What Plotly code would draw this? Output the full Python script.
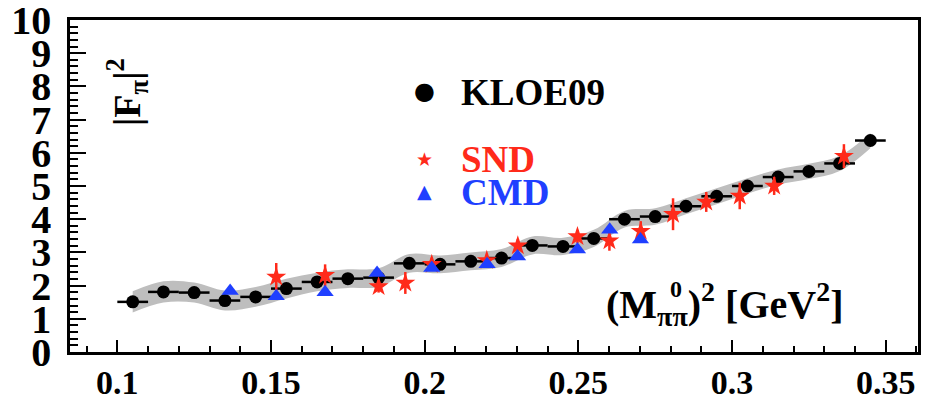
import plotly.graph_objects as go

# ---------------- data ----------------
kloe_x = [0.105, 0.115, 0.125, 0.135, 0.145, 0.155, 0.165, 0.175, 0.185, 0.195,
          0.205, 0.215, 0.225, 0.235, 0.245, 0.255, 0.265, 0.275, 0.285, 0.295,
          0.305, 0.315, 0.325, 0.335, 0.345]
kloe_y = [1.51, 1.81, 1.79, 1.55, 1.66, 1.91, 2.11, 2.21, 2.24, 2.67,
          2.64, 2.73, 2.83, 3.21, 3.18, 3.42, 4.00, 4.08, 4.39, 4.69,
          5.00, 5.27, 5.44, 5.68, 6.37]
kloe_xerr = [0.005] * 25
band_hw = [0.32, 0.32, 0.30, 0.30, 0.30, 0.30, 0.28, 0.28, 0.28, 0.28,
           0.27, 0.27, 0.27, 0.27, 0.26, 0.26, 0.25, 0.25, 0.24, 0.24,
           0.23, 0.23, 0.23, 0.23, 0.23]

snd_x = [0.1517, 0.1676, 0.1850, 0.1937, 0.2023, 0.2202, 0.2303, 0.2497,
         0.2601, 0.2703, 0.2808, 0.2916, 0.3025, 0.3137, 0.3364]
snd_y = [2.26, 2.31, 1.97, 2.08, 2.64, 2.76, 3.20, 3.48,
         3.35, 3.64, 4.15, 4.52, 4.70, 5.00, 5.90]
snd_err = [0.42, 0.33, 0.18, 0.33, 0.20, 0.15, 0.20, 0.20,
           0.30, 0.30, 0.48, 0.30, 0.40, 0.27, 0.36]

cmd_x = [0.1367, 0.1517, 0.1676, 0.1845, 0.2023, 0.2203, 0.2302, 0.2497, 0.2602, 0.2702]
cmd_y = [1.84, 1.68, 1.80, 2.38, 2.53, 2.64, 2.88, 3.09, 3.68, 3.39]

x_range = [0.0846, 0.3605]
y_range = [0, 10]
x_ticks = [0.1, 0.15, 0.2, 0.25, 0.3, 0.35]
x_ticklabels = ["0.1", "0.15", "0.2", "0.25", "0.3", "0.35"]
y_ticks = list(range(0, 11))

RED = "#ff2a1a"
BLUE = "#1f3fff"
GRAY = "#bebebe"
SERIF = "Liberation Serif"

band_hi = [y + h for y, h in zip(kloe_y, band_hw)]
band_lo = [y - h for y, h in zip(kloe_y, band_hw)]

fig = go.Figure()
fig.add_trace(go.Scatter(x=kloe_x, y=band_hi, mode="lines",
                         line=dict(width=0, shape="spline", smoothing=1.0, color=GRAY),
                         showlegend=False, hoverinfo="skip"))
fig.add_trace(go.Scatter(x=kloe_x, y=band_lo, mode="lines", fill="tonexty",
                         fillcolor=GRAY,
                         line=dict(width=0, shape="spline", smoothing=1.0, color=GRAY),
                         showlegend=False, hoverinfo="skip"))
fig.add_trace(go.Scatter(x=kloe_x, y=kloe_y, mode="markers", name="KLOE09",
                         marker=dict(symbol="circle", size=13, color="black"),
                         error_x=dict(type="data", array=kloe_xerr, color="black",
                                      thickness=2.5, width=0),
                         showlegend=False))
fig.add_trace(go.Scatter(x=snd_x, y=snd_y, mode="markers", name="SND",
                         marker=dict(symbol="star", size=15, color=RED, line=dict(width=0)),
                         error_y=dict(type="data", array=snd_err, color=RED,
                                      thickness=2.5, width=0),
                         showlegend=False))
fig.add_trace(go.Scatter(x=cmd_x, y=cmd_y, mode="markers", name="CMD",
                         marker=dict(symbol="triangle-up", size=15, color=BLUE, line=dict(width=0)),
                         showlegend=False))

# the page body adds an 8 px offset; size the figure so it fits the window
OFF = 8
W, H = 936 - OFF, 403 - OFF
L, T = 70 - OFF, 20 - OFF
pw, ph = 848, 332
R, B = W - L - pw, H - T - ph


def px(wx):
    return (wx - OFF - L) / pw


def py(wy):
    return (T + ph - (wy - OFF)) / ph


ann = []
# legend (text symbols)
ann.append(dict(x=px(424), y=py(91), text="●", font=dict(family="DejaVu Sans", size=24, color="black")))
ann.append(dict(x=px(424), y=py(159), text="★", font=dict(family="DejaVu Sans", size=19, color=RED)))
ann.append(dict(x=px(424), y=py(191), text="▲", font=dict(family="DejaVu Sans", size=19, color=BLUE)))
ann.append(dict(x=px(459), y=py(92), text="KLOE09", xanchor="left",
                font=dict(family=SERIF, size=37, color="black", weight="bold")))
ann.append(dict(x=px(459), y=py(159), text="SND", xanchor="left",
                font=dict(family=SERIF, size=37, color=RED, weight="bold")))
ann.append(dict(x=px(459), y=py(192), text="CMD", xanchor="left",
                font=dict(family=SERIF, size=37, color=BLUE, weight="bold")))
# axis titles
ann.append(dict(x=px(127), y=py(92), text="|F<sub>π</sub>|<sup>2</sup>", textangle=-90,
                font=dict(family=SERIF, size=38, color="black", weight="bold")))
ann.append(dict(x=px(846), y=py(304), text="(M<sub>ππ</sub>)<sup>2</sup> [GeV<sup>2</sup>]",
                xanchor="right",
                font=dict(family=SERIF, size=40, color="black", weight="bold")))
ann.append(dict(x=px(676), y=py(289), text="0",
                font=dict(family=SERIF, size=24, color="black", weight="bold")))
for a in ann:
    a.update(xref="paper", yref="paper", showarrow=False)
    a.setdefault("xanchor", "center")
    a.setdefault("yanchor", "middle")

fig.update_layout(
    width=W, height=H,
    margin=dict(l=L, r=R, t=T, b=B, pad=0, autoexpand=False),
    paper_bgcolor="white", plot_bgcolor="white",
    showlegend=False,
    annotations=ann,
    xaxis=dict(range=x_range, tickvals=x_ticks, ticktext=x_ticklabels,
               automargin=False, ticklabeloverflow="allow",
               ticks="inside", ticklen=12, tickwidth=1.5, tickcolor="black",
               minor=dict(dtick=0.01, tick0=0.0, ticks="inside", ticklen=6,
                          tickwidth=1.5, tickcolor="black", showgrid=False),
               showgrid=False, zeroline=False,
               showline=True, linewidth=2.5, linecolor="black", mirror=True,
               ticklabelstandoff=-2,
               tickfont=dict(family=SERIF, size=34, color="black", weight="bold")),
    yaxis=dict(range=y_range, tickvals=y_ticks,
               automargin=False, ticklabeloverflow="allow",
               ticks="inside", ticklen=16, tickwidth=1.5, tickcolor="black",
               minor=dict(dtick=0.2, tick0=0, ticks="inside", ticklen=8,
                          tickwidth=1.5, tickcolor="black", showgrid=False),
               showgrid=False, zeroline=False,
               showline=True, linewidth=2.5, linecolor="black", mirror=True,
               ticklabelstandoff=8,
               tickfont=dict(family=SERIF, size=40, color="black", weight="bold")),
)

fig.write_html("out.html")
